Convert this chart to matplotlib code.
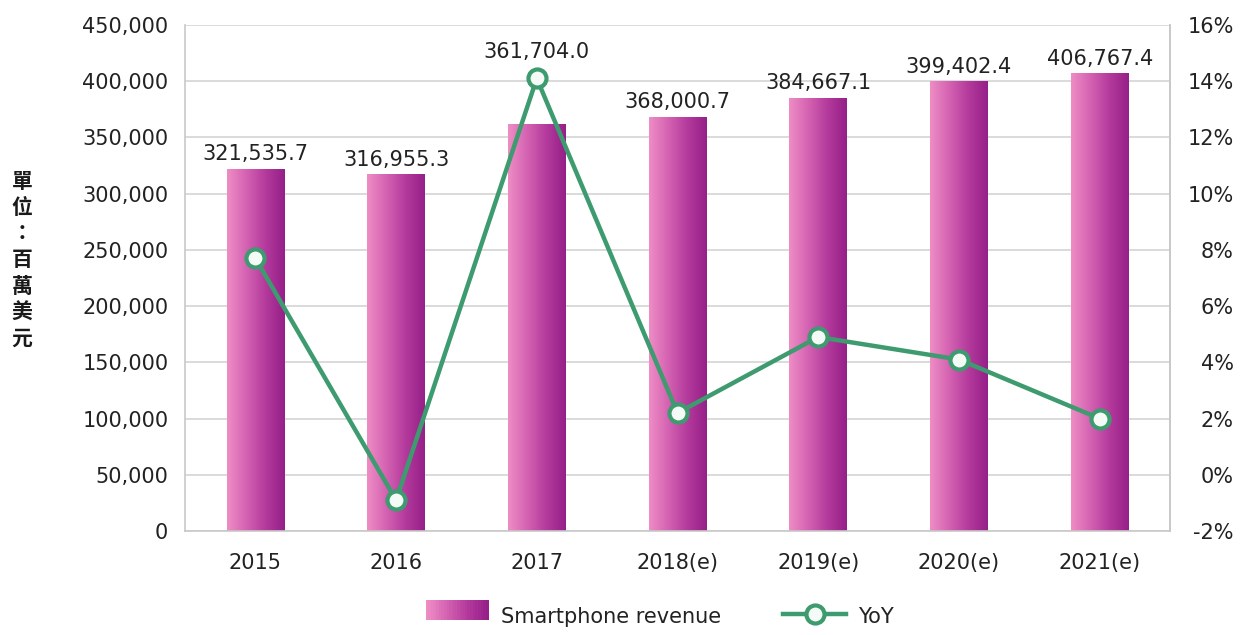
import numpy as np
import matplotlib
matplotlib.use("Agg")
import matplotlib.pyplot as plt
from matplotlib.colors import LinearSegmentedColormap
from matplotlib.patches import Rectangle
from matplotlib.legend_handler import HandlerBase
from matplotlib.lines import Line2D
from matplotlib.ticker import FuncFormatter, MultipleLocator

# data
years = ["2015", "2016", "2017", "2018(e)", "2019(e)", "2020(e)", "2021(e)"]
revenue = [321535.7, 316955.3, 361704.0, 368000.7, 384667.1, 399402.4, 406767.4]
yoy = [7.7, -0.9, 14.1, 2.2, 4.9, 4.1, 2.0]

plt.rcParams['font.family'] = ['DejaVu Sans']
txt = '#222222'
grid_c = '#d4d4d4'
green = '#3d9b6f'
bar_cmap = LinearSegmentedColormap.from_list(
    'bar', ['#ee8cc4', '#d462b2', '#b43a9c', '#962089'])

fig = plt.figure(figsize=(12.42, 6.35), dpi=100)
ax = fig.add_axes([185 / 1242, 1 - 531 / 635, 985 / 1242, 506 / 635])
ax2 = ax.twinx()

x = np.arange(len(years))
w = 0.41
grad = np.linspace(0, 1, 64).reshape(1, -1)

# gradient bars
for xi, v in zip(x, revenue):
    ax.imshow(grad, cmap=bar_cmap, aspect='auto', interpolation='bicubic',
              extent=[xi - w / 2, xi + w / 2, 0, v], zorder=2)

ax.set_xlim(-0.5, len(years) - 0.5)
ax.set_ylim(0, 450000)
ax.yaxis.set_major_locator(MultipleLocator(50000))
ax.yaxis.set_major_formatter(FuncFormatter(lambda v, p: f"{v:,.0f}"))
ax.grid(axis='y', color=grid_c, linewidth=1.2, zorder=0)
ax.set_axisbelow(True)
ax.set_xticks(x)
ax.set_xticklabels(years)
ax.tick_params(axis='x', length=0, pad=16, labelsize=15, labelcolor=txt)
ax.tick_params(axis='y', length=0, pad=12, labelsize=15, labelcolor=txt)

for s in ax.spines.values():
    s.set_color('#c8c8c8')
    s.set_linewidth(1.2)
ax.spines['top'].set_visible(False)
for s in ax2.spines.values():
    s.set_visible(False)
ax2.spines['right'].set_visible(True)
ax2.spines['right'].set_color('#c8c8c8')
ax2.spines['right'].set_linewidth(1.2)

# YoY line
ax2.plot(x, yoy, color=green, linewidth=3.2, marker='o', markersize=13,
         markerfacecolor='#f4fbf6', markeredgecolor=green, markeredgewidth=3,
         zorder=5)
ax2.set_ylim(-2, 16)
ax2.yaxis.set_major_locator(MultipleLocator(2))
ax2.yaxis.set_major_formatter(FuncFormatter(lambda v, p: f"{v:.0f}%"))
ax2.tick_params(axis='y', length=0, pad=46, labelsize=15, labelcolor=txt)
for lbl in ax2.get_yticklabels():
    lbl.set_horizontalalignment('right')

# value labels; lift the one that would sit on a marker
for i, v in enumerate(revenue):
    y_bar = ax.transData.transform((i, v))[1]
    y_mk = ax2.transData.transform((i, yoy[i]))[1]
    y_disp = y_bar + 5
    if y_mk > y_bar and y_mk - y_bar < 80:
        y_disp = y_mk + 16
    y_data = ax.transData.inverted().transform((0, y_disp))[1]
    ax.text(i, y_data, f"{v:,.1f}", ha='center', va='bottom',
            fontsize=15, color=txt, zorder=6)

# vertical unit label
fig.text(22 / 1242, 1 - 260 / 635, "\n".join("單位：百萬美元"),
         ha='center', va='center', fontsize=15, fontweight='bold',
         linespacing=1.3, color='#1a1a1a',
         family=['Noto Sans CJK TC', 'DejaVu Sans'])


class GradientHandler(HandlerBase):
    def create_artists(self, legend, orig, xd, yd, width, height, fontsize, trans):
        n = 24
        arts = []
        for k in range(n):
            arts.append(Rectangle((xd + width * k / n, yd), width / n + 0.3, height,
                                  facecolor=bar_cmap(k / (n - 1)), edgecolor='none',
                                  transform=trans))
        return arts


bar_handle = Rectangle((0, 0), 1, 1)
line_handle = Line2D([], [], color=green, linewidth=3.2, marker='o', markersize=13,
                     markerfacecolor='#f4fbf6', markeredgecolor=green,
                     markeredgewidth=3)
fig.legend([bar_handle, line_handle], ["Smartphone revenue", "YoY"],
           handler_map={Rectangle: GradientHandler()},
           loc='center', bbox_to_anchor=(660 / 1242, 1 - 616 / 635), ncol=2,
           frameon=False, fontsize=15, handlelength=3.0, handleheight=1.1,
           columnspacing=3.0, handletextpad=0.6, labelcolor=txt)

fig.savefig("out.png", dpi=100, facecolor='white')
